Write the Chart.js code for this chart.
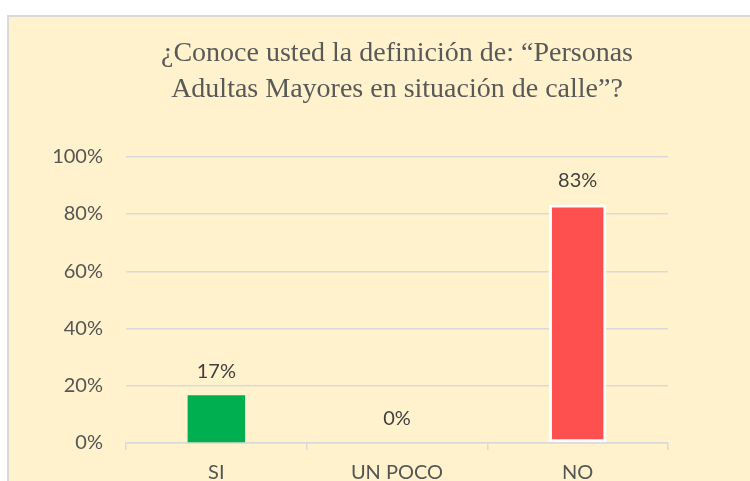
<!DOCTYPE html>
<html>
<head>
<meta charset="utf-8">
<script src="https://cdn.jsdelivr.net/npm/chart.js@4"></script>
<style>
  html, body { margin: 0; padding: 0; background: #ffffff; overflow: hidden; width: 750px; height: 481px; }
  #box { position: absolute; left: 7px; top: 15px; width: 780px; height: 500px; background: #FFF2CC; border-left: 2px solid #D9D9D9; border-top: 2px solid #D9D9D9; box-sizing: border-box; }
  #c { position: absolute; left: 0; top: 0; }
</style>
</head>
<body>
<div id="box"></div>
<canvas id="c" width="750" height="500"></canvas>
<script>
const titleLines = ['¿Conoce usted la definición de: “Personas', 'Adultas Mayores en situación de calle”?'];
const categories = ['SI', 'UN POCO', 'NO'];
const values = [16.67, 0, 83.33];
const barColors = ['#00B050', '#00B050', '#FF5050'];
const borderWidths = [0, 0, 3];
const yTicks = [0, 20, 40, 60, 80, 100];

const dataLabels = {
  id: 'dataLabels',
  afterDatasetsDraw(chart) {
    const ctx = chart.ctx;
    const meta = chart.getDatasetMeta(0);
    ctx.save();
    ctx.font = '20px Lato';
    ctx.fillStyle = '#404040';
    ctx.textAlign = 'center';
    ctx.textBaseline = 'middle';
    meta.data.forEach((bar, i) => {
      ctx.fillText(Math.round(values[i]) + '%', bar.x, bar.y - 24);
    });
    ctx.restore();
  }
};

new Chart(document.getElementById('c'), {
  type: 'bar',
  data: {
    labels: categories,
    datasets: [{
      data: values,
      backgroundColor: barColors,
      borderColor: '#ffffff',
      borderWidth: borderWidths,
      borderSkipped: false,
      categoryPercentage: 1,
      barPercentage: 0.318
    }]
  },
  options: {
    responsive: false,
    animation: false,
    layout: { padding: { left: 0, right: 82, top: 15, bottom: 0 } },
    plugins: {
      legend: { display: false },
      tooltip: { enabled: false },
      title: {
        display: true,
        text: titleLines,
        fullSize: false,
        color: '#595959',
        font: { family: 'Liberation Serif', size: 28, weight: 'normal', lineHeight: 1.3 },
        padding: { top: 20, bottom: 49 }
      }
    },
    scales: {
      y: {
        min: 0, max: 100,
        afterFit(s) { s.width = 126; },
        afterBuildTicks(s) { s.ticks = yTicks.map(v => ({ value: v })); },
        ticks: {
          padding: 23,
          color: '#555555',
          font: { family: 'Lato', size: 20 },
          callback: v => v + '%'
        },
        grid: { color: '#D9D9D9', lineWidth: 1.5, drawTicks: false },
        border: { display: false }
      },
      x: {
        afterFit(s) { s.height = 57; },
        ticks: {
          padding: 11,
          color: '#555555',
          font: { family: 'Lato', size: 20 }
        },
        grid: { drawOnChartArea: false, drawTicks: true, tickLength: 7, color: '#D9D9D9', lineWidth: 1.5 },
        border: { display: true, color: '#D9D9D9', width: 1.5 }
      }
    }
  },
  plugins: [dataLabels]
});
</script>
</body>
</html>
